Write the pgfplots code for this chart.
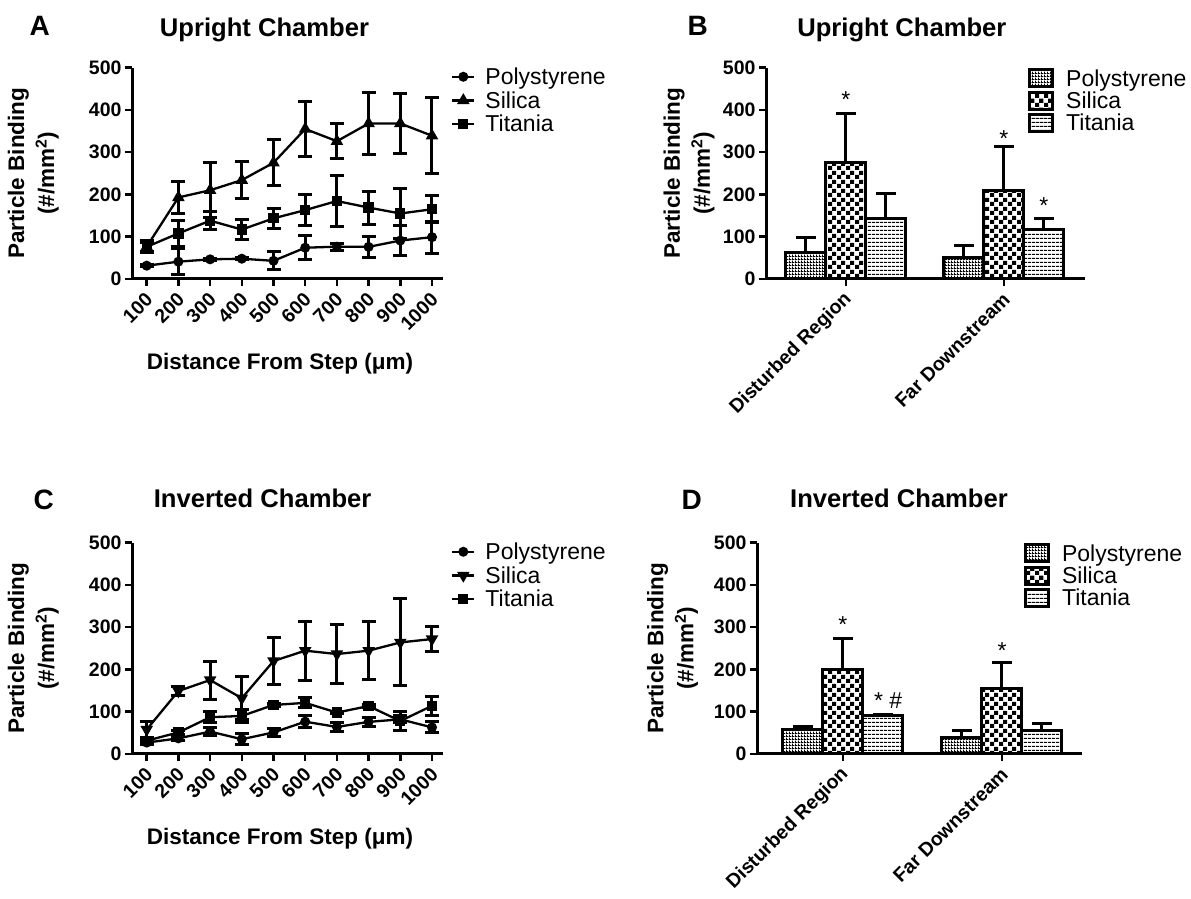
\documentclass[border=0pt]{standalone}
\usepackage{fontspec}
\setmainfont{Liberation Sans}
\usepackage{pgfplots}
\pgfplotsset{compat=1.18}
\usetikzlibrary{patterns}

\pgfdeclarepatternformonly{finecheck}{\pgfpointorigin}{\pgfqpoint{3pt}{3pt}}{\pgfqpoint{3pt}{3pt}}{%
  \pgfpathrectangle{\pgfpointorigin}{\pgfqpoint{3pt}{1.2pt}}%
  \pgfpathrectangle{\pgfqpoint{0pt}{1.2pt}}{\pgfqpoint{1.2pt}{1.8pt}}%
  \pgfusepath{fill}}
\pgfdeclarepatternformonly{bigcheck}{\pgfpointorigin}{\pgfqpoint{9pt}{9pt}}{\pgfqpoint{9pt}{9pt}}{%
  \pgfpathrectangle{\pgfpointorigin}{\pgfqpoint{4.5pt}{4.5pt}}%
  \pgfpathrectangle{\pgfqpoint{4.5pt}{4.5pt}}{\pgfqpoint{4.5pt}{4.5pt}}%
  \pgfusepath{fill}}
\pgfdeclarepatternformonly{hlines}{\pgfpointorigin}{\pgfqpoint{4pt}{4pt}}{\pgfqpoint{4pt}{4pt}}{%
  \pgfpathrectangle{\pgfpointorigin}{\pgfqpoint{4pt}{1.3pt}}%
  \pgfusepath{fill}}

\newcommand{\tickfont}{\fontsize{19.5}{21}\selectfont\bfseries}
\newcommand{\labfont}{\fontsize{22.5}{30}\selectfont\bfseries}
\newcommand{\titfont}{\fontsize{25.6}{30}\selectfont\bfseries}
\newcommand{\letfont}{\fontsize{28}{30}\selectfont\bfseries}
\newcommand{\legfont}{\fontsize{23}{25}\selectfont}

\pgfplotsset{
  gp/.style={
    scale only axis, height=211.3pt,
    axis lines=left,
    axis line style={line width=3pt,-},
    tick style={black, line width=2.5pt},
    tick align=outside,
    major tick length=7pt,
    ymin=0, ymax=500, ytick={0,100,200,300,400,500},
    /pgf/number format/assume math mode=true,
    ticklabel style={font=\tickfont},
    xticklabel style={rotate=45, anchor=east, xshift=-2pt, yshift=-9pt},
    ylabel={Particle Binding\\(\#/mm\textsuperscript{2})},
    ylabel style={font=\labfont, align=center, anchor=center},
    title style={font=\titfont, anchor=base},
    clip=false,
    legend cell align=left,
  },
  lineax/.style={gp, width=311pt, xmin=53.6, xmax=1034.7,
    xtick={100,200,300,400,500,600,700,800,900,1000},
    xticklabels={100,200,300,400,500,600,700,800,900,1000},
    ylabel style={at={(axis description cs:-0.317,0.5)}},
    xlabel={Distance From Step (μm)},
    xlabel style={font=\labfont, at={(axis description cs:0.476,0)}, anchor=base, yshift=-91pt},
    legend style={draw=none, fill=none, at={(axis description cs:1.016,1.02)}, anchor=north west, font=\legfont, row sep=1.5pt, column sep=8pt},
    legend image code/.code={\draw[mark repeat=2,mark phase=2,#1] plot coordinates {(0pt,0pt) (11pt,0pt) (22pt,0pt)};},
  },
  ln/.style={black, line width=2.3pt, mark options={solid},
    error bars/y dir=both, error bars/y explicit,
    error bars/error bar style={line width=3pt},
    error bars/error mark options={rotate=90, mark size=7pt, line width=3pt}},
  barax/.style={gp, ybar=0pt, bar width=40pt, xtick={0,1},
    xticklabels={Disturbed Region, Far Downstream},
    legend style={draw=none, fill=none, anchor=north west, font=\legfont, row sep=0pt, column sep=10pt},
    legend image code/.code={\draw[line width=3pt,#1] (0pt,-8pt) rectangle (23pt,9pt);},
  },
  br/.style={draw=black, line width=3pt, pattern=#1,
    error bars/y dir=plus, error bars/y explicit,
    error bars/error bar style={line width=3pt},
    error bars/error mark options={rotate=90, mark size=10pt, line width=3pt}},
}

\begin{document}
\begin{tikzpicture}
\useasboundingbox (0,0) rectangle (1191pt,899pt);

\node[font=\letfont, anchor=base west] at (26pt,863pt) {A};
\node[font=\letfont, anchor=base west] at (684pt,863pt) {B};
\node[font=\letfont, anchor=base west] at (30pt,389pt) {C};
\node[font=\letfont, anchor=base west] at (678pt,389pt) {D};

% ---------------- A ----------------
\begin{axis}[lineax, at={(132pt,620pt)}, anchor=south west, title={Upright Chamber},
  title style={at={(axis description cs:0.426,1)}, yshift=25.5pt}]
\addplot[ln, mark=*, mark size=3.8pt] table[x=x,y=y,y error=e] {
x y e
100 31.5 3
200 41 31
300 46.5 3
400 48 3
500 43 21
600 74 29
700 76.5 8
800 76 25
900 91 36
1000 99 38
};
\addlegendentry{Polystyrene}
\addplot[ln, mark=triangle*, mark size=5pt] table[x=x,y=y,y error=e] {
x y e
100 76.5 14
200 193 37
300 210 65
400 234 43
500 275 54
600 355 64
700 326 41
800 368 74
900 368 71
1000 339 90
};
\addlegendentry{Silica}
\addplot[ln, mark=square*, mark size=4pt] table[x=x,y=y,y error=e] {
x y e
100 76 10
200 108 30
300 138 21
400 117 23
500 143.5 23
600 163 36
700 184.5 60
800 169 39
900 155 59
1000 165 32
};
\addlegendentry{Titania}
\end{axis}

% ---------------- B ----------------
\begin{axis}[barax, width=319pt, xmin=-0.506, xmax=1.513, at={(766pt,620pt)}, anchor=south west,
  title={Upright Chamber},
  title style={at={(axis description cs:0.426,1)}, yshift=25.5pt},
  ylabel style={at={(axis description cs:-0.241,0.5)}},
  legend style={at={(axis description cs:0.812,1.01)}}]
\addplot[br=finecheck] table[x=x,y=y,y error=e] {
x y e
0 63 35
1 50 30
};
\addlegendentry{Polystyrene}
\addplot[br=bigcheck] table[x=x,y=y,y error=e] {
x y e
0 276 116
1 210.5 102.5
};
\addlegendentry{Silica}
\addplot[br=hlines] table[x=x,y=y,y error=e] {
x y e
0 142 61
1 117.5 24.5
};
\addlegendentry{Titania}
\node[font=\legfont, anchor=base] at (axis cs:0,406) {*};
\node[font=\legfont, anchor=base] at (axis cs:1,313) {*};
\node[font=\legfont, anchor=base] at (axis cs:1.253,155) {*};
\end{axis}

% ---------------- C ----------------
\begin{axis}[lineax, at={(132pt,145pt)}, anchor=south west, title={Inverted Chamber},
  title style={at={(axis description cs:0.42,1)}, yshift=29.5pt}]
\addplot[ln, mark=*, mark size=3.8pt] table[x=x,y=y,y error=e] {
x y e
100 27 5
200 37 5
300 53 10
400 35 13
500 51 9
600 76.5 14
700 64 11
800 76 11
900 82 8
1000 63 13
};
\addlegendentry{Polystyrene}
\addplot[ln, mark=triangle*, mark size=5pt, mark options={rotate=180}] table[x=x,y=y,y error=e] {
x y e
100 58 18
200 149 10
300 175 45
400 132 51
500 220 56
600 244.5 70
700 236.5 70
800 244.5 69
900 264 103
1000 272 30
};
\addlegendentry{Silica}
\addplot[ln, mark=square*, mark size=4pt] table[x=x,y=y,y error=e] {
x y e
100 31.5 5
200 51 5
300 87 13
400 90 15
500 116 3
600 121 12
700 98 3
800 113.5 3
900 78 22
1000 114 23
};
\addlegendentry{Titania}
\end{axis}

% ---------------- D ----------------
\begin{axis}[barax, width=325pt, xmin=-0.54, xmax=1.503, at={(757pt,145pt)}, anchor=south west,
  title={Inverted Chamber},
  title style={at={(axis description cs:0.437,1)}, yshift=29.5pt},
  ylabel style={at={(axis description cs:-0.26,0.5)}},
  legend style={at={(axis description cs:0.812,1.01)}}]
\addplot[br=finecheck] table[x=x,y=y,y error=e] {
x y e
0 58 7
1 39.5 16.5
};
\addlegendentry{Polystyrene}
\addplot[br=bigcheck] table[x=x,y=y,y error=e] {
x y e
0 199 75
1 155 61
};
\addlegendentry{Silica}
\addplot[br=hlines] table[x=x,y=y,y error=e] {
x y e
0 90 4
1 55 17.5
};
\addlegendentry{Titania}
\node[font=\legfont, anchor=base] at (axis cs:0,287.5) {*};
\node[font=\legfont, anchor=base west] at (axis cs:0.174,108) {* \#};
\node[font=\legfont, anchor=base] at (axis cs:1,225) {*};
\end{axis}
\end{tikzpicture}
\end{document}
